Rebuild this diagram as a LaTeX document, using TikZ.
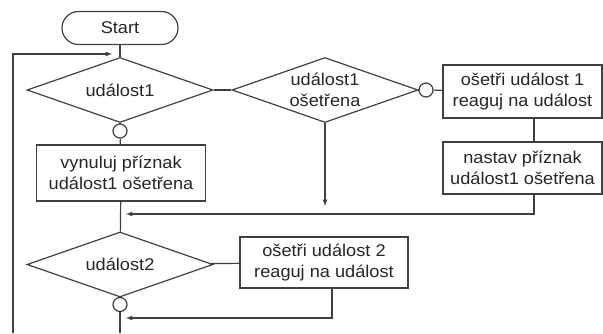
\documentclass[tikz,border=0pt]{standalone}
\usepackage{fontspec}
\newfontfamily\chartfont[FakeStretch=1.07]{Liberation Sans}
\usetikzlibrary{shapes.geometric}

\begin{document}
\begin{tikzpicture}[x=1pt, y=-1pt]
    \tikzset{
        every node/.style={font=\chartfont\fontsize{17}{21}\selectfont, text=black!85},
        myline/.style={draw=black!75, line width=1.2pt},
        mystart/.style={myline, rectangle, rounded corners=16.5pt,
            minimum width=116pt, minimum height=33pt, inner sep=0pt},
        mybox/.style={myline, rectangle, align=center, inner sep=0pt},
        mydiamond/.style={myline, diamond, aspect=2.86, align=center,
            minimum width=186pt, minimum height=65pt, inner sep=0pt},
        myjoin/.style={myline, circle, minimum size=14pt, inner sep=0pt},
    }
    \useasboundingbox (0,0) rectangle (603,333);

    % Nodes
    \node[mystart] (start) at (120, 28) {Start};
    \node[mydiamond] (ev1) at (120, 90) {událost1};
    \node[myjoin] (join1) at (120, 131) {};
    \node[mybox, minimum width=169pt, minimum height=56pt] (reset) at (121, 173)
        {vynuluj příznak\\událost1 ošetřena};
    \node[mydiamond] (done1) at (325, 90) {událost1\\ošetřena};
    \node[myjoin] (join2) at (426, 90) {};
    \node[mybox, minimum width=159pt, minimum height=53pt] (handle1) at (522.5, 91.5)
        {ošetři událost 1\\reaguj na událost};
    \node[mybox, minimum width=159pt, minimum height=52pt] (flag1) at (522.5, 168)
        {nastav příznak\\událost1 ošetřena};
    \node[mydiamond] (ev2) at (120, 264.5) {událost2};
    \node[mybox, minimum width=168pt, minimum height=51pt] (handle2) at (324, 262.5)
        {ošetři událost 2\\reaguj na událost};
    \node[myjoin] (join3) at (120, 304.5) {};

    % Points on the lines
    \coordinate (top) at (120, 54);
    \coordinate (merge1) at (120, 214);
    \coordinate (merge2) at (120, 318);
    \coordinate (loop) at (13, 333);
    \coordinate (end) at (120, 333);

    % Connections
    \draw[myline] (start) -- (ev1);
    \draw[myline, ->, >=latex, shorten >=8pt] (loop) |- (top);
    \draw[myline] (ev1) -- (join1);
    \draw[myline] (join1) -- (reset);
    \draw[myline] (reset) -- (ev2);
    \draw[myline] (ev1) -- (done1);
    \draw[myline] (done1) -- (join2);
    \draw[myline] (join2) -- (handle1);
    \draw[myline] ([xshift=11.5pt]handle1.south) -- ([xshift=11.5pt]flag1.north);
    \draw[myline, ->, >=latex, shorten >=6pt] ([xshift=11.5pt]flag1.south) |- (merge1);
    \draw[myline, ->, >=latex, shorten >=8pt] (done1) -- (done1.south |- merge1);
    \draw[myline] (ev2) -- (handle2);
    \draw[myline] (ev2) -- (join3);
    \draw[myline, ->, >=latex, shorten >=6pt] ([xshift=8pt]handle2.south) |- (merge2);
    \draw[myline] (join3) -- (end);
\end{tikzpicture}
\end{document}
